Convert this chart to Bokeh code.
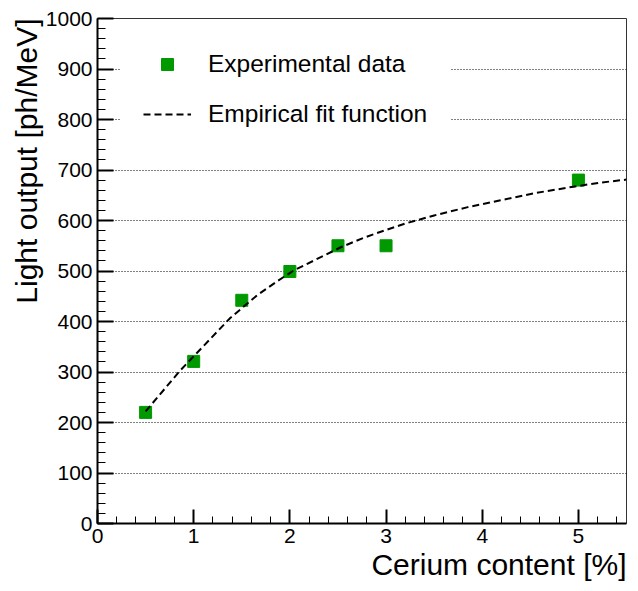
from bokeh.plotting import figure
from bokeh.models import Range1d, SingleIntervalTicker, Legend, LegendItem, Title
from bokeh.embed import file_html
from bokeh.resources import INLINE

# Experimental data
cerium_content = [0.5, 1.0, 1.5, 2.0, 2.5, 3.0, 5.0]
light_output = [220, 321, 442, 499, 550, 550, 680]

# Empirical fit function
fit_x = [0.5, 0.86, 1.38, 1.66, 1.87, 2.04, 2.53, 2.77, 3.01, 3.2, 3.5, 3.84, 4.19, 4.54, 4.95, 5.23, 5.5]
fit_y = [222, 303, 407, 452, 480, 501, 547, 566, 582, 594, 610, 626, 640, 654, 667, 675, 681]

x_title = "Cerium content [%]"
y_title = "Light output [ph/MeV]"
legend_labels = ["Experimental data", "Empirical fit function"]

FONT = "Liberation Sans"

p = figure(width=638, height=591,
           x_range=Range1d(0, 5.5), y_range=Range1d(0, 1000),
           output_backend="svg", toolbar_location=None,
           min_border_left=97, min_border_right=12,
           min_border_top=18, min_border_bottom=68)
p.background_fill_color = "white"
p.border_fill_color = "white"
p.outline_line_color = "#333333"
p.outline_line_width = 1

p.xaxis.ticker = SingleIntervalTicker(interval=1, num_minor_ticks=5)
p.yaxis.ticker = SingleIntervalTicker(interval=100, num_minor_ticks=5)

for ax in (p.xaxis[0], p.yaxis[0]):
    ax.axis_line_width = 2
    ax.axis_line_color = "black"
    ax.major_tick_line_width = 2
    ax.minor_tick_line_width = 1
    ax.major_tick_out = 0
    ax.minor_tick_out = 0
    ax.major_label_text_font = FONT
    ax.major_label_text_font_size = "21px"
    ax.major_label_text_color = "black"
    ax.major_label_standoff = 5

p.xaxis.major_tick_in = 14
p.xaxis.minor_tick_in = 7
p.yaxis.major_tick_in = 16
p.yaxis.minor_tick_in = 8

p.xgrid.visible = False
p.ygrid.grid_line_color = "black"
p.ygrid.grid_line_dash = "1 2"
p.ygrid.grid_line_width = 1

sc = p.scatter(cerium_content, light_output, marker="square", size=12,
               fill_color="#009900", line_color="#009900")
ln = p.line(fit_x, fit_y, line_color="black", line_width=2, line_dash="7 4")

legend = Legend(items=[LegendItem(label=legend_labels[0], renderers=[sc]),
                       LegendItem(label=legend_labels[1], renderers=[ln])],
                location=(23, 371), glyph_width=48, glyph_height=30,
                label_height=30, label_standoff=17, spacing=20, padding=23,
                border_line_alpha=0, background_fill_color="white",
                background_fill_alpha=1, label_text_font=FONT,
                label_text_color="black",
                label_text_font_size="24.5px", margin=0)
p.add_layout(legend)

p.add_layout(Title(text=y_title, align="right", text_font=FONT,
                   text_font_size="30px", text_font_style="normal",
                   text_color="black", standoff=0), "left")
p.add_layout(Title(text=x_title, align="right", text_font=FONT,
                   text_font_size="30px", text_font_style="normal",
                   text_color="black", standoff=0), "below")

open("out.html", "w").write(file_html(p, INLINE))
